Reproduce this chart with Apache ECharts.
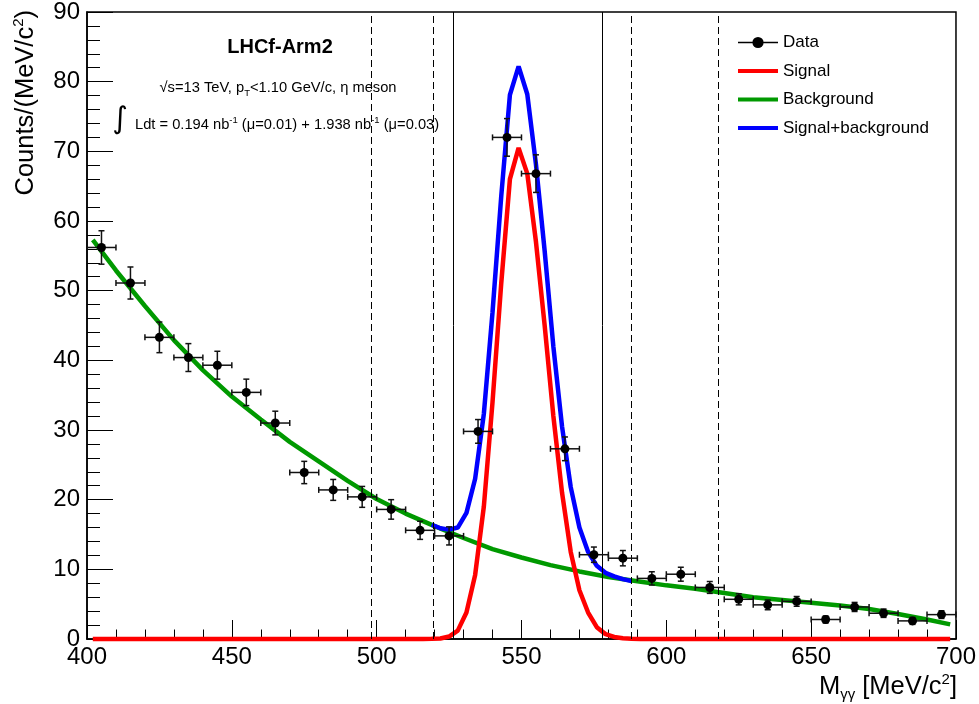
<!DOCTYPE html>
<html>
<head>
<meta charset="utf-8">
<script src="https://cdn.jsdelivr.net/npm/echarts@6.0.0/dist/echarts.min.js"></script>
<style>
html,body{margin:0;padding:0;background:#fff;}
#chart{width:979px;height:704px;}
</style>
</head>
<body>
<div id="chart"></div>
<script>
// ---- data ----
const binCenters = [405,415,425,435,445,455,465,475,485,495,505,515,525,535,545,555,565,575,585,595,605,615,625,635,645,655,665,675,685,695];
const counts     = [56.2,51.1,43.3,40.4,39.3,35.4,31.0,23.9,21.4,20.4,18.6,15.6,14.8,29.8,72.0,66.8,27.3,12.1,11.6,8.7,9.3,7.4,5.7,4.9,5.4,2.8,4.6,3.7,2.6,3.5];
const countErrs  = [2.4,2.3,2.2,2.0,2.0,1.9,1.7,1.6,1.5,1.5,1.4,1.3,1.3,1.7,2.7,2.7,1.7,1.1,1.1,0.95,1.0,0.85,0.8,0.7,0.7,0.5,0.65,0.6,0.5,0.55];
const binHalfWidth = 5;

const sigX = [402,516,519,522,525,528,531,534,537,540,543,546,549,552,555,558,561,564,567,570,573,576,579,582,585,588,591,698];
const sigY = [0,0,0.02,0.08,0.35,1.2,3.8,9.2,19.0,34.0,51.0,66.0,70.5,66.8,57.0,45.0,32.0,21.0,12.5,7.0,3.8,1.7,0.7,0.3,0.1,0.02,0,0];

const bkgX = [402,410,420,430,440,450,460,470,480,490,500,510,520,530,540,550,560,570,580,590,600,610,620,630,640,650,660,670,680,690,698];
const bkgY = [57.3,52.9,47.8,42.9,38.6,34.8,31.5,28.3,25.5,22.7,20.1,18.0,16.2,14.5,12.9,11.7,10.6,9.7,8.9,8.3,7.7,7.2,6.6,6.0,5.6,5.2,4.8,4.3,3.6,2.8,2.1];

const totX = [519,522,525,528,531,534,537,540,543,546,549,552,555,558,561,564,567,570,573,576,579,582,585,588];
const totY = [16.4,15.9,15.7,16.0,18.1,23.0,32.3,46.9,63.5,78.1,82.2,78.2,68.1,55.7,42.0,30.5,21.8,16.0,12.5,10.5,9.5,9.0,8.6,8.3];

const solidLines  = [526.6, 578.0];
const dashedLines = [498.0, 519.4, 588.0, 617.8];

const xTicks = {min:400, max:700, step:50};
const yTicks = {min:0, max:90, step:10};

// ---- chart ----
const FONT = 'Liberation Sans, Arial, Helvetica, sans-serif';
const zip = (a,b) => a.map((v,i)=>[v,b[i]]);
const errData = binCenters.map((x,i)=>[x, counts[i], countErrs[i], binHalfWidth]);

const chart = echarts.init(document.getElementById('chart'), null, {renderer:'canvas'});

const markData = solidLines.map(v=>({xAxis:v, lineStyle:{type:'solid', color:'#000', width:1}}))
  .concat(dashedLines.map(v=>({xAxis:v, lineStyle:{type:[7,4], color:'#000', width:1}})));

const option = {
  animation:false,
  backgroundColor:'#fff',
  grid:{left:87, right:22, top:9, bottom:65, show:true, borderColor:'#000', borderWidth:1.5, backgroundColor:'transparent'},
  xAxis:{
    type:'value', min:xTicks.min, max:xTicks.max, interval:xTicks.step,
    axisLine:{show:true, lineStyle:{color:'#000', width:1.5}},
    axisTick:{show:true, inside:true, length:19, lineStyle:{color:'#000', width:1}},
    minorTick:{show:true, splitNumber:5, length:9.5, lineStyle:{color:'#000', width:1}},
    splitLine:{show:false},
    axisLabel:{color:'#000', fontSize:24, fontFamily:FONT, margin:6}
  },
  yAxis:{
    type:'value', min:yTicks.min, max:yTicks.max, interval:yTicks.step,
    axisLine:{show:true, lineStyle:{color:'#000', width:1.5}},
    axisTick:{show:true, inside:true, length:26, lineStyle:{color:'#000', width:1}},
    minorTick:{show:true, splitNumber:5, length:13, lineStyle:{color:'#000', width:1}},
    splitLine:{show:false},
    axisLabel:{color:'#000', fontSize:24, fontFamily:FONT, margin:7}
  },
  legend:{
    orient:'vertical', left:736, top:34, padding:0, itemWidth:40, itemHeight:14, itemGap:11.5,
    textStyle:{color:'#000', fontSize:17, fontFamily:FONT},
    data:[
      {name:'Data', lineStyle:{color:'#000', width:1.5, opacity:1}, itemStyle:{color:'#000'}},
      {name:'Signal', itemStyle:{opacity:0}, lineStyle:{color:'#ff0000', width:4}},
      {name:'Background', itemStyle:{opacity:0}, lineStyle:{color:'#009900', width:4}},
      {name:'Signal+background', itemStyle:{opacity:0}, lineStyle:{color:'#0000ff', width:4}}
    ]
  },
  series:[
    {
      name:'Background', type:'line', data:zip(bkgX,bkgY), showSymbol:false, symbol:'none',
      lineStyle:{color:'#009900', width:4.5}, itemStyle:{color:'#009900'}, z:2, clip:false,
      markLine:{silent:true, symbol:['none','none'], label:{show:false}, data:markData, animation:false}
    },
    {
      name:'Signal+background', type:'line', data:zip(totX,totY), showSymbol:false, symbol:'none',
      lineStyle:{color:'#0000ff', width:4.5}, itemStyle:{color:'#0000ff'}, z:3
    },
    {
      name:'Signal', type:'line', data:zip(sigX,sigY), showSymbol:false, symbol:'none',
      lineStyle:{color:'#ff0000', width:4.5}, itemStyle:{color:'#ff0000'}, z:4, clip:false
    },
    {
      name:'DataErrors', type:'custom', z:5, data:errData,
      renderItem:function(params, api){
        const x=api.value(0), y=api.value(1), ey=api.value(2), ex=api.value(3);
        const l=api.coord([x-ex,y]), r=api.coord([x+ex,y]);
        const b=api.coord([x,y-ey]), t=api.coord([x,y+ey]);
        const c=3;
        const st={stroke:'#111', lineWidth:1.5};
        return {type:'group', children:[
          {type:'line', shape:{x1:l[0],y1:l[1],x2:r[0],y2:r[1]}, style:st},
          {type:'line', shape:{x1:b[0],y1:b[1],x2:t[0],y2:t[1]}, style:st},
          {type:'line', shape:{x1:l[0],y1:l[1]-c,x2:l[0],y2:l[1]+c}, style:st},
          {type:'line', shape:{x1:r[0],y1:r[1]-c,x2:r[0],y2:r[1]+c}, style:st},
          {type:'line', shape:{x1:b[0]-c,y1:b[1],x2:b[0]+c,y2:b[1]}, style:st},
          {type:'line', shape:{x1:t[0]-c,y1:t[1],x2:t[0]+c,y2:t[1]}, style:st}
        ]};
      }
    },
    {
      name:'Data', type:'line', data:zip(binCenters,counts), symbol:'circle', symbolSize:9, showAllSymbol:true,
      lineStyle:{width:0, opacity:0}, itemStyle:{color:'#000'}, z:6
    }
  ],
  graphic:[
    {type:'text', x:26, y:10, rotation:Math.PI/2,
     style:{text:'{m|Counts/(MeV/c}{s|2}{m|)}', align:'right', verticalAlign:'middle', fill:'#000',
       rich:{m:{fontSize:25.5, fontFamily:FONT, lineHeight:30, verticalAlign:'middle'},
             s:{fontSize:15, fontFamily:FONT, lineHeight:30, verticalAlign:'top'}}}},
    {type:'text', x:957, y:687,
     style:{text:'{m|M}{s|γγ}{m| [MeV/c}{p|2}{m|]}', align:'right', verticalAlign:'middle', fill:'#000',
       rich:{m:{fontSize:25.5, fontFamily:FONT, lineHeight:30},
             s:{fontSize:15, fontFamily:FONT, lineHeight:30, verticalAlign:'bottom'},
             p:{fontSize:15, fontFamily:FONT, lineHeight:30, verticalAlign:'top'}}}},
    {type:'text', x:280, y:47,
     style:{text:'LHCf-Arm2', align:'center', verticalAlign:'middle', fill:'#000', fontSize:20, fontWeight:'bold', fontFamily:FONT}},
    {type:'text', x:278, y:88,
     style:{text:'{m|√s=13 TeV, p}{s|T}{m|<1.10 GeV/c, η meson}', align:'center', verticalAlign:'middle', fill:'#000',
       rich:{m:{fontSize:14.7, fontFamily:FONT, lineHeight:20},
             s:{fontSize:9.5, fontFamily:FONT, lineHeight:20, verticalAlign:'bottom'}}}},
    {type:'text', x:120, y:120,
     style:{text:'∫', align:'center', verticalAlign:'middle', fill:'#000', fontSize:30, fontFamily:'DejaVu Sans'}},
    {type:'text', x:135, y:125,
     style:{text:'{m|Ldt = 0.194 nb}{p|-1}{m| (μ=0.01) + 1.938 nb}{p|-1}{m| (μ=0.03)}', align:'left', verticalAlign:'middle', fill:'#000',
       rich:{m:{fontSize:14.7, fontFamily:FONT, lineHeight:20},
             p:{fontSize:9.5, fontFamily:FONT, lineHeight:20, verticalAlign:'top'}}}}
  ]
};
chart.setOption(option);
</script>
</body>
</html>
